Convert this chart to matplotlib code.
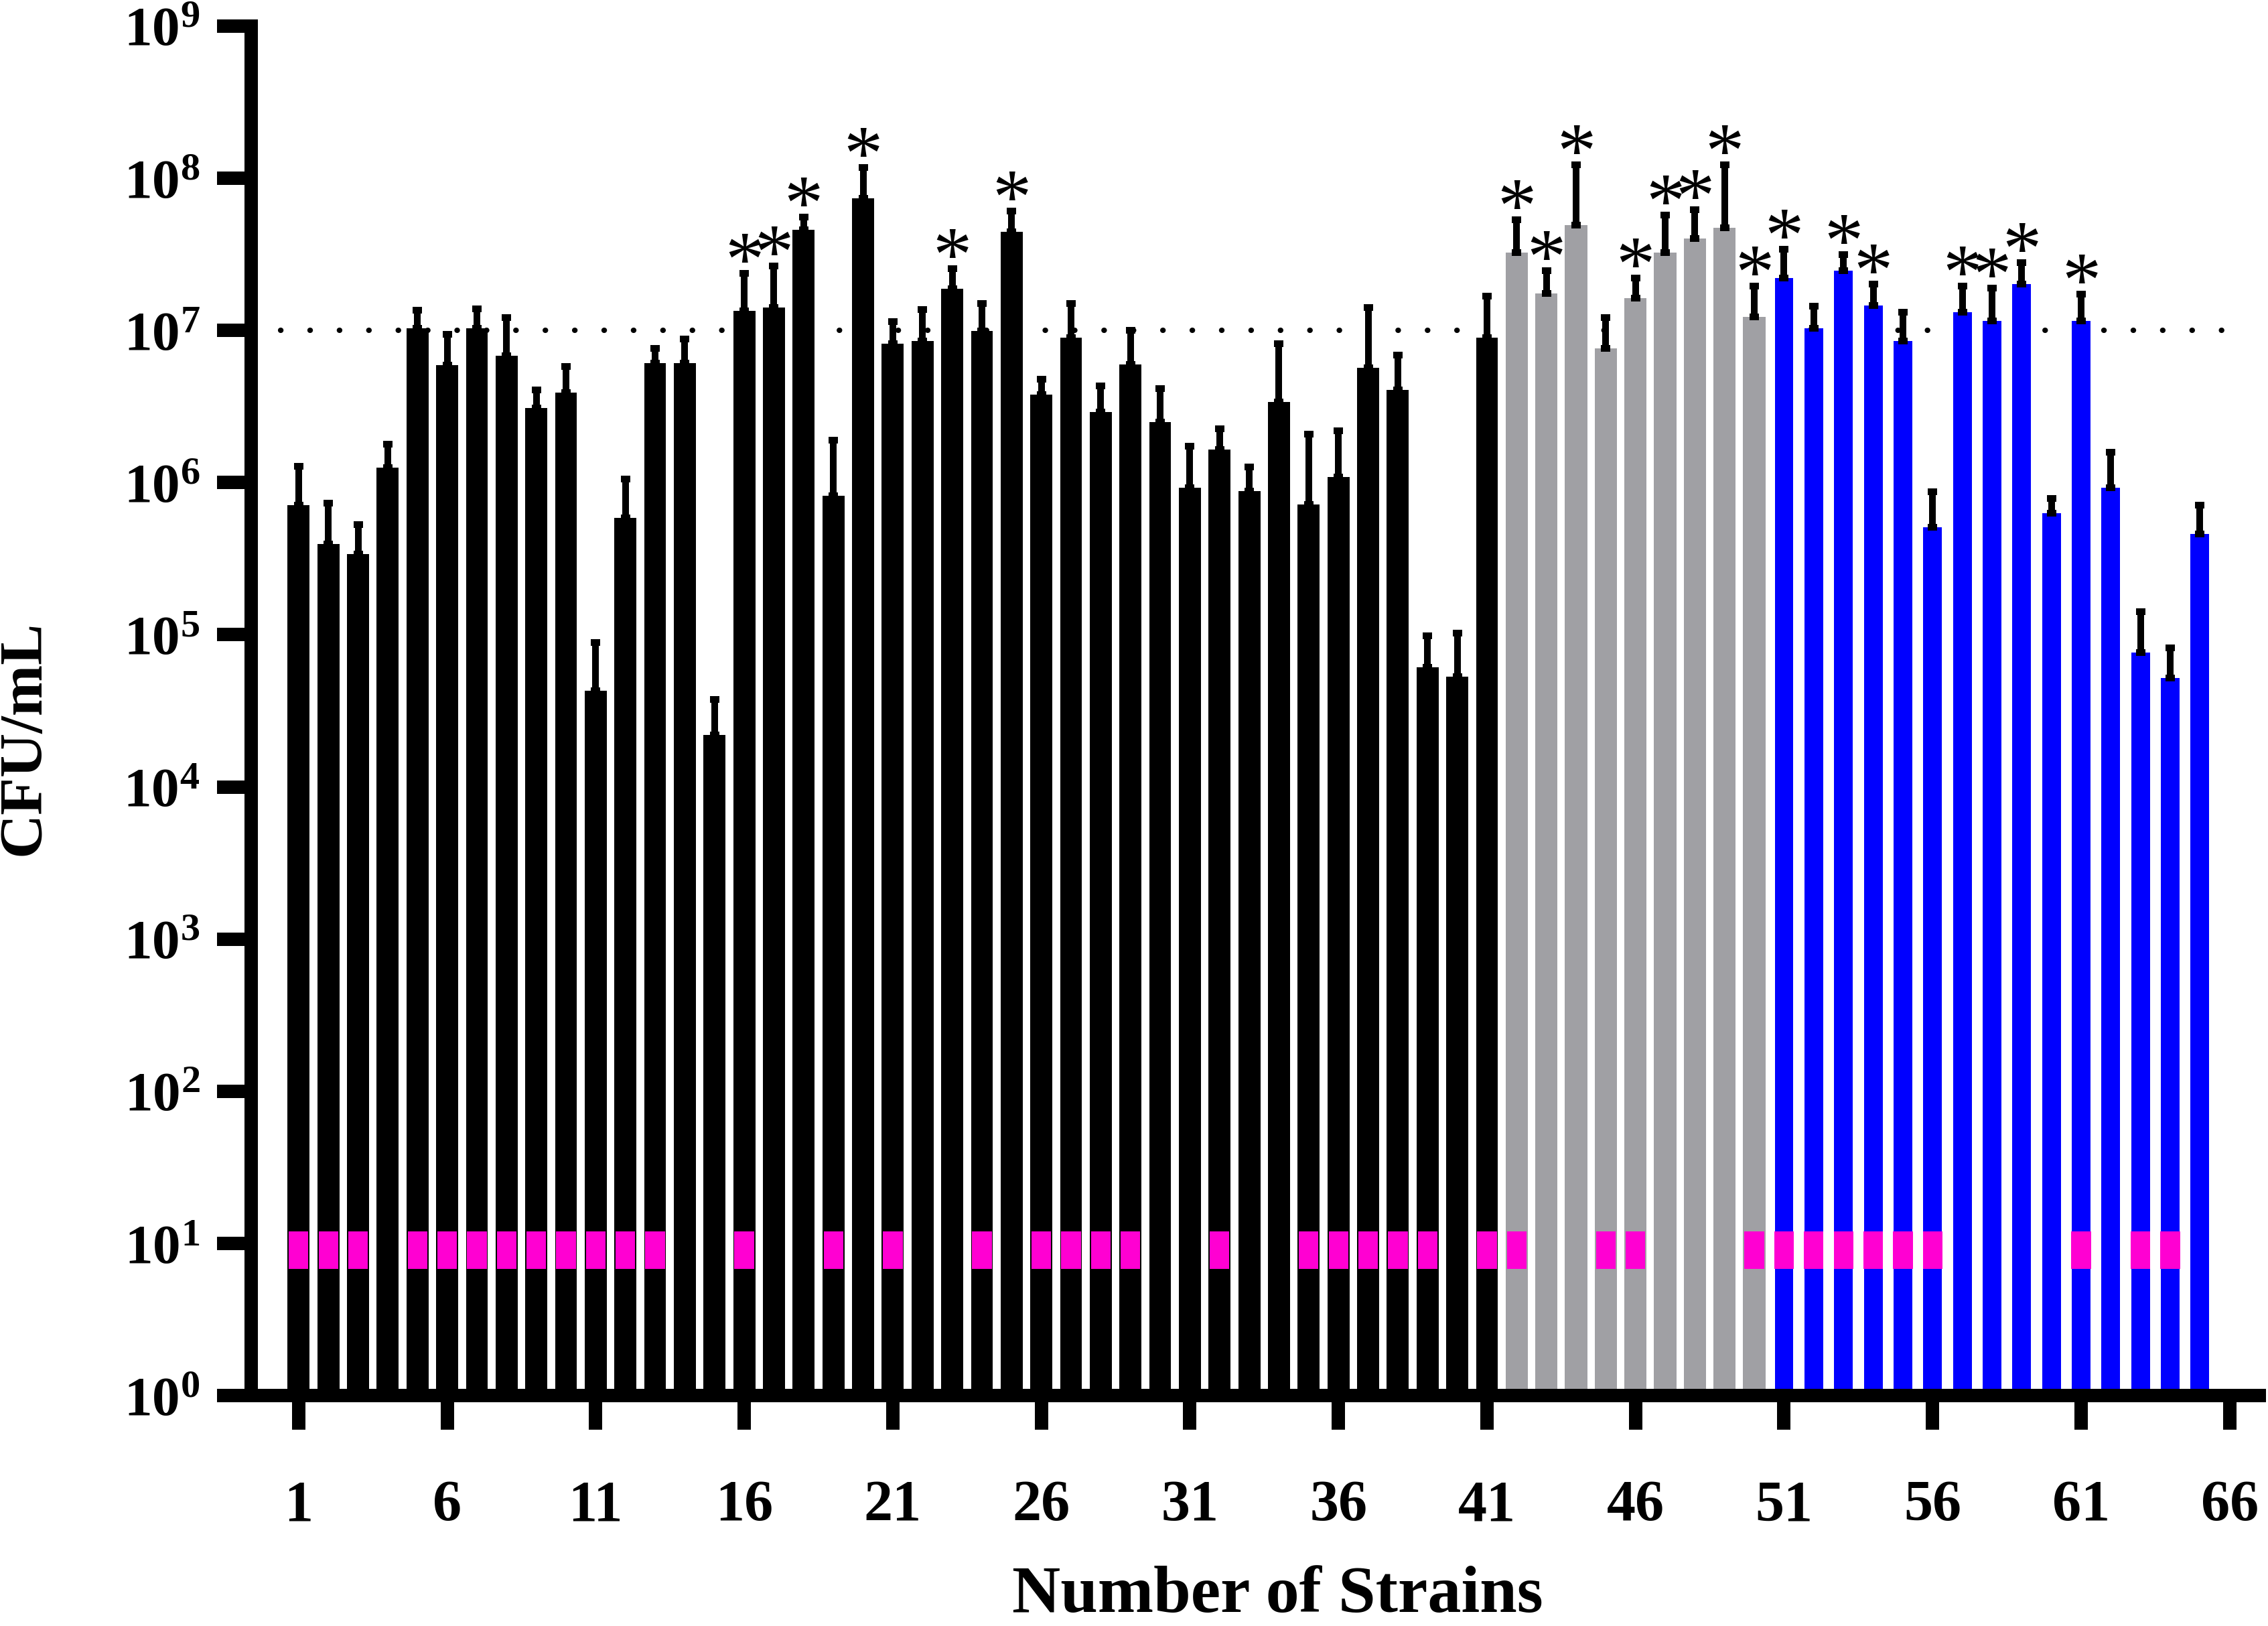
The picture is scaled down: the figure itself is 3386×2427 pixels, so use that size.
import matplotlib
matplotlib.use("Agg")
import matplotlib.pyplot as plt

# %%
plt.rcParams["font.family"] = ["Liberation Serif", "DejaVu Serif"]
plt.rcParams["font.weight"] = "bold"
plt.rcParams["mathtext.fontset"] = "custom"
plt.rcParams["mathtext.rm"] = "Liberation Serif:bold"
plt.rcParams["mathtext.bf"] = "Liberation Serif:bold"
plt.rcParams["mathtext.it"] = "Liberation Serif:bold"

# %%
strains = list(range(1, 66))

cfu_mean = [
    7.1e5, 3.95e5, 3.4e5, 1.25e6, 1.03e7, 5.9e6, 1.03e7, 6.8e6, 3.08e6, 3.9e6,
    4.3e4, 5.85e5, 6.1e6, 6.1e6, 2.2e4, 1.34e7, 1.41e7, 4.57e7, 8.2e5, 7.4e7,
    8.2e6, 8.5e6, 1.88e7, 9.9e6, 4.46e7, 3.8e6, 8.95e6, 2.9e6, 6.0e6, 2.5e6,
    9.2e5, 1.64e6, 8.8e5, 3.4e6, 7.2e5, 1.09e6, 5.7e6, 4.06e6, 6.1e4, 5.3e4,
    8.95e6, 3.23e7, 1.75e7, 4.9e7, 7.6e6, 1.63e7, 3.23e7, 4.0e7, 4.74e7, 1.23e7,
    2.21e7, 1.03e7, 2.46e7, 1.46e7, 8.5e6, 5.07e5, 1.32e7, 1.15e7, 2.02e7, 6.3e5,
    1.15e7, 9.2e5, 7.6e4, 5.2e4, 4.6e5,
]

cfu_err = [
    5.7e5, 3.4e5, 1.9e5, 5.4e5, 3.3e6, 3.5e6, 3.5e6, 5.3e6, 1.0e6, 1.9e6,
    4.6e4, 4.7e5, 1.5e6, 2.7e6, 1.56e4, 1.04e7, 1.23e7, 1.0e7, 1.07e6, 4.4e7,
    3.2e6, 5.2e6, 6.7e6, 5.1e6, 1.62e7, 1.0e6, 6.0e6, 1.4e6, 4.0e6, 1.65e6,
    8.2e5, 6.2e5, 3.8e5, 4.8e6, 1.36e6, 1.1e6, 8.4e6, 2.85e6, 3.7e4, 4.9e4,
    7.9e6, 2.1e7, 7.1e6, 7.3e7, 4.5e6, 5.8e6, 2.5e7, 2.2e7, 7.5e7, 7.2e6,
    1.19e7, 4.1e6, 7.0e6, 5.6e6, 4.6e6, 3.6e5, 6.4e6, 7.4e6, 7.8e6, 1.6e5,
    5.8e6, 6.6e5, 6.5e4, 3.0e4, 2.5e5,
]

grey_strains = list(range(42, 51))
blue_strains = list(range(51, 66))

star_strains = [16, 17, 18, 20, 23, 25, 42, 43, 44, 46, 47, 48, 49, 50,
                51, 53, 54, 57, 58, 59, 61]

pink_strains = [1, 2, 3, 5, 6, 7, 8, 9, 10, 11, 12, 13, 16, 19, 21, 24,
                26, 27, 28, 29, 32, 35, 36, 37, 38, 39, 41, 42, 45, 46,
                50, 51, 52, 53, 54, 55, 56, 61, 63, 64]
pink_band = [6.8, 12.0]

cutoff = 1e7
x_ticks = list(range(1, 67, 5))
y_ticks = [10 ** k for k in range(0, 10)]
y_labels = [r"$\mathbf{10^{%d}}$" % k for k in range(0, 10)]

# %%
fig = plt.figure(figsize=(33.86, 24.27), dpi=100)
ax = fig.add_axes([0.1107, 0.1417, 0.8855, 0.8423])

black_x = [s for s in strains if s not in grey_strains and s not in blue_strains]
mean_of = dict(zip(strains, cfu_mean))
err_of = dict(zip(strains, cfu_err))

# dotted cut-off line at 10^7
ax.plot([-0.6, 66], [cutoff, cutoff], color="black", linewidth=5.8,
        linestyle=(0, (0.05, 5.4)), dash_capstyle="round", zorder=1)

ax.bar(black_x, [mean_of[s] for s in black_x], width=0.74, bottom=1,
       color="black", zorder=2)
ax.bar(grey_strains, [mean_of[s] for s in grey_strains], width=0.75, bottom=1,
       color="#a0a0a4", zorder=2)
ax.bar(blue_strains, [mean_of[s] for s in blue_strains], width=0.63, bottom=1,
       color="#0000ff", zorder=2)

ax.bar(pink_strains, pink_band[1] - pink_band[0], bottom=pink_band[0],
       width=0.66, color="#ff00d2", zorder=3)

ax.errorbar(strains, cfu_mean, yerr=[[0] * len(strains), cfu_err], fmt="none",
            ecolor="black", elinewidth=7.2, capsize=4.7, capthick=7.2, zorder=4)

for s in star_strains:
    ax.annotate("*", xy=(s, mean_of[s] + err_of[s]), xytext=(0, -18),
                textcoords="offset pixels", ha="center", va="baseline",
                fontsize=84, fontweight="normal", zorder=5)

# %%
ax.set_yscale("log")
ax.set_ylim(1, 1e9)
ax.set_xlim(-0.6, 67)

ax.set_yticks(y_ticks)
ax.set_yticklabels(y_labels)
ax.yaxis.set_minor_locator(plt.NullLocator())
ax.set_xticks(x_ticks)
ax.set_xticklabels([str(t) for t in x_ticks])

ax.tick_params(axis="y", which="major", length=37, width=14.4, pad=18,
               labelsize=60, direction="out")
ax.tick_params(axis="x", which="major", length=37, width=14.4, pad=54,
               labelsize=62, direction="out")

for side in ["top", "right"]:
    ax.spines[side].set_visible(False)
for side in ["left", "bottom"]:
    ax.spines[side].set_linewidth(14.4)

ax.set_xlabel("Number of Strains", fontsize=72, fontweight="bold")
ax.xaxis.set_label_coords(0.511, -0.124)
ax.set_ylabel("CFU/mL", fontsize=66, fontweight="bold")
ax.yaxis.set_label_coords(-0.099, 0.48)

fig.savefig("out.png", dpi=100)
